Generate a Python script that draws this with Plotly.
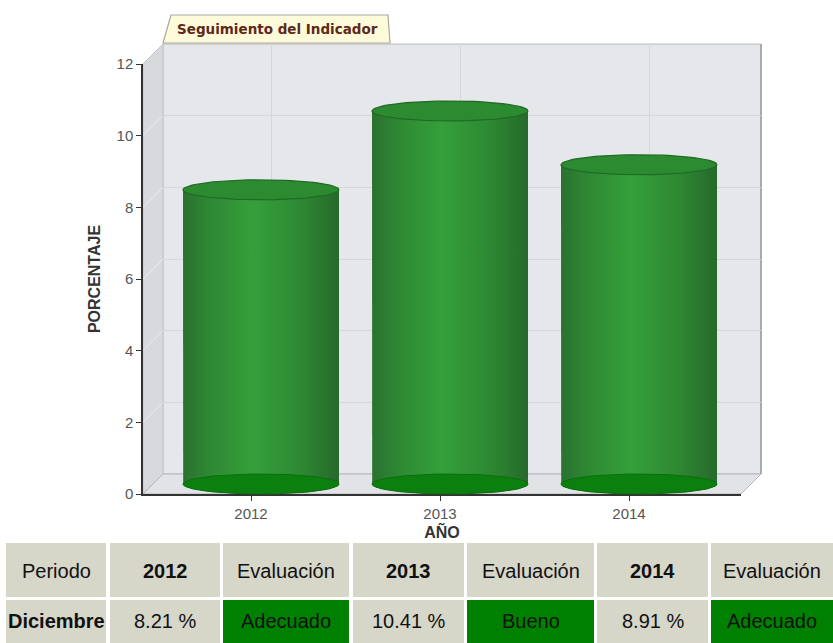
import numpy as np
import plotly.graph_objects as go

# ---- data -------------------------------------------------------------
years = ["2012", "2013", "2014"]
values = [8.21, 10.41, 8.91]
ratings = ["Adecuado", "Bueno", "Adecuado"]
period = "Diciembre"
y_ticks = [0, 2, 4, 6, 8, 10, 12]

# ---- geometry helpers (pixels -> paper) ---------------------------------
W, H = 833, 643
CAT0_X, CAT_STEP = 251, 189      # pixel of first category, pixels per category
ZERO_Y, UNIT_Y = 494, 430 / 12   # pixel of value 0, pixels per unit
DEPTH = 20                       # 3D depth offset in pixels


def px(x):
    return x / W


def py(y):
    return 1 - y / H


def plane_domains(d, xr, yr):
    xd = [px(CAT0_X + d + CAT_STEP * xr[0]), px(CAT0_X + d + CAT_STEP * xr[1])]
    yd = [py(ZERO_Y - d - UNIT_Y * yr[0]), py(ZERO_Y - d - UNIT_Y * yr[1])]
    return xd, yd


front_xr = [(143 - CAT0_X) / CAT_STEP, (741 - CAT0_X) / CAT_STEP]
front_yr = [0, 12]
mid_xr = [-0.7, 2.8]
mid_yr = [-0.7, 12.6]

fx_dom, fy_dom = plane_domains(0, front_xr, front_yr)
bx_dom, by_dom = plane_domains(DEPTH, front_xr, front_yr)
mx_dom, my_dom = plane_domains(DEPTH / 2, mid_xr, mid_yr)

fig = go.Figure()

# front subplot carries the visible axes
fig.add_trace(go.Scatter(x=[None], y=[None], xaxis="x", yaxis="y",
                         showlegend=False, hoverinfo="skip"))
# back-wall subplot carries the grid
fig.add_trace(go.Scatter(x=[None], y=[None], xaxis="x2", yaxis="y2",
                         showlegend=False, hoverinfo="skip"))

# ---- cylinders (middle depth plane) -------------------------------------
half_w = 78 / CAT_STEP
half_h = (DEPTH / 2) / UNIT_Y
t = np.linspace(0, 2 * np.pi, 91)
body_scale = [[0, "#2a7130"], [0.15, "#2e8633"], [0.45, "#35a03a"],
              [0.75, "#2e8833"], [1, "#266a2b"]]

for i, v in enumerate(values):
    # body: sides plus the lower front half of the base ellipse
    lower = np.linspace(np.pi, 2 * np.pi, 46)
    bx = np.concatenate([[i - half_w], i + half_w * np.cos(lower), [i + half_w, i - half_w]])
    by = np.concatenate([[v], half_h * np.sin(lower), [v, v]])
    fig.add_trace(go.Scatter(
        x=bx, y=by, xaxis="x3", yaxis="y3", mode="lines",
        line=dict(width=0, color="#2a7a2e"), fill="toself",
        fillgradient=dict(type="horizontal", colorscale=body_scale),
        hoverinfo="skip", showlegend=False))
    # base ellipse
    fig.add_trace(go.Scatter(
        x=i + half_w * np.cos(t), y=half_h * np.sin(t), xaxis="x3", yaxis="y3",
        mode="lines", line=dict(width=1, color="#0a6e0e"), fill="toself",
        fillcolor="#0b800f", hoverinfo="skip", showlegend=False))
    # top cap
    fig.add_trace(go.Scatter(
        x=i + half_w * np.cos(t), y=v + half_h * np.sin(t), xaxis="x3", yaxis="y3",
        mode="lines", line=dict(width=1.2, color="#1f6a24"), fill="toself",
        fillcolor="#2c8b30", hoverinfo="skip", showlegend=False))

# ---- walls ---------------------------------------------------------------
fx0, fx1 = 143, 741
fy0, fy1 = ZERO_Y, ZERO_Y - 12 * UNIT_Y
shapes = []
annotations = []


def poly(pts, fill, line="#c9cacd", width=1, layer="below"):
    path = "M " + " L ".join(f"{px(x):.5f},{py(y):.5f}" for x, y in pts) + " Z"
    return dict(type="path", xref="paper", yref="paper", path=path,
                fillcolor=fill, line=dict(color=line, width=width), layer=layer)


# back wall
shapes.append(poly([(fx0 + DEPTH, fy1 - DEPTH), (fx1 + DEPTH, fy1 - DEPTH),
                    (fx1 + DEPTH, fy0 - DEPTH), (fx0 + DEPTH, fy0 - DEPTH)],
                   "#e5e7eb", line="#b9babd"))
# left wall
shapes.append(poly([(fx0, fy1), (fx0 + DEPTH, fy1 - DEPTH),
                    (fx0 + DEPTH, fy0 - DEPTH), (fx0, fy0)], "#d8d9dc", line="#c4c5c8"))
# floor
shapes.append(poly([(fx0, fy0), (fx0 + DEPTH, fy0 - DEPTH),
                    (fx1 + DEPTH, fy0 - DEPTH), (fx1, fy0)], "#e2e3e6", line="#b5b6b9"))
# right edge of the back wall (darker rim)
shapes.append(dict(type="line", xref="paper", yref="paper",
                   x0=px(fx1 + DEPTH), x1=px(fx1 + DEPTH),
                   y0=py(fy1 - DEPTH), y1=py(fy0 - DEPTH),
                   line=dict(color="#a9aaad", width=2), layer="below"))
# diagonal grid on the left wall
for tv in y_ticks[1:-1]:
    yy = ZERO_Y - tv * UNIT_Y
    shapes.append(dict(type="line", xref="paper", yref="paper",
                       x0=px(fx0), y0=py(yy), x1=px(fx0 + DEPTH), y1=py(yy - DEPTH),
                       line=dict(color="#e9eaec", width=1), layer="below"))

# title tab
shapes.append(poly([(163, 43), (171, 15), (388, 15), (390, 43)], "#fdfbd9",
                   line="#a8a8a0", width=1.2, layer="above"))
annotations.append(dict(
    text="<b>Seguimiento del Indicador</b>", xref="paper", yref="paper",
    x=px(277), y=py(29), showarrow=False, xanchor="center", yanchor="middle",
    font=dict(family="DejaVu Sans", size=13.5, color="#5e2818")))

# ---- summary table under the chart ---------------------------------------
col_edges = [(6, 106), (110, 220), (223, 349), (353, 464), (467, 594), (597, 708), (711, 833)]
row_edges = [(543, 597), (600, 648)]
beige, green = "#d6d6c9", "#008000"

header = ["Periodo"]
row = [f"<b>{period}</b>"]
row_fill = [beige]
for yr, v, r in zip(years, values, ratings):
    header += [f"<b>{yr}</b>", "Evaluación"]
    row += [f"{v:.2f} %", r]
    row_fill += [beige, green]

table_font = dict(family="Liberation Sans", size=20, color="#111")
text_y = [571, 621]
for r_idx, (texts, fills) in enumerate([(header, [beige] * 7), (row, row_fill)]):
    y0, y1 = row_edges[r_idx]
    for (x0, x1), txt, fc in zip(col_edges, texts, fills):
        shapes.append(dict(type="rect", xref="paper", yref="paper",
                           x0=px(x0), x1=px(x1), y0=py(y1), y1=py(y0),
                           fillcolor=fc, line=dict(width=0), layer="below"))
        annotations.append(dict(text=txt, xref="paper", yref="paper",
                                x=px((x0 + x1) / 2), y=py(text_y[r_idx]),
                                showarrow=False, xanchor="center", yanchor="middle",
                                font=table_font))

# ---- axes ----------------------------------------------------------------
tick_font = dict(family="Liberation Sans", size=15, color="#555")
title_font = dict(family="Liberation Sans", size=16, color="#333")

fig.update_layout(
    width=W, height=H, margin=dict(l=0, r=0, t=0, b=0, autoexpand=False),
    paper_bgcolor="white", plot_bgcolor="rgba(0,0,0,0)",
    showlegend=False, shapes=shapes, annotations=annotations,
    xaxis=dict(domain=fx_dom, range=front_xr, tickvals=[0, 1, 2], ticktext=years,
               showgrid=False, zeroline=False, showline=True, linecolor="#333",
               linewidth=1.5, ticks="outside", ticklen=5, tickcolor="#333",
               tickfont=tick_font, anchor="y", fixedrange=True, automargin=False,
               title=dict(text="<b>AÑO</b>", font=title_font, standoff=4)),
    yaxis=dict(domain=fy_dom, range=front_yr, tickvals=y_ticks,
               showgrid=False, zeroline=False, showline=True, linecolor="#333",
               linewidth=1.5, ticks="outside", ticklen=5, tickcolor="#333",
               tickfont=tick_font, anchor="x", fixedrange=True, automargin=False,
               title=dict(text="<b>PORCENTAJE</b>", font=title_font, standoff=12)),
    xaxis2=dict(domain=bx_dom, range=front_xr, tickvals=[0, 1, 2], showticklabels=False,
                showgrid=True, gridcolor="#d6d7db", zeroline=False, anchor="y2",
                fixedrange=True, automargin=False),
    yaxis2=dict(domain=by_dom, range=front_yr, tickvals=y_ticks, showticklabels=False,
                showgrid=True, gridcolor="#d6d7db", zeroline=False, anchor="x2",
                fixedrange=True, automargin=False),
    xaxis3=dict(domain=mx_dom, range=mid_xr, visible=False, anchor="y3",
                fixedrange=True, automargin=False),
    yaxis3=dict(domain=my_dom, range=mid_yr, visible=False, anchor="x3",
                fixedrange=True, automargin=False),
)

fig.write_html("out.html")
